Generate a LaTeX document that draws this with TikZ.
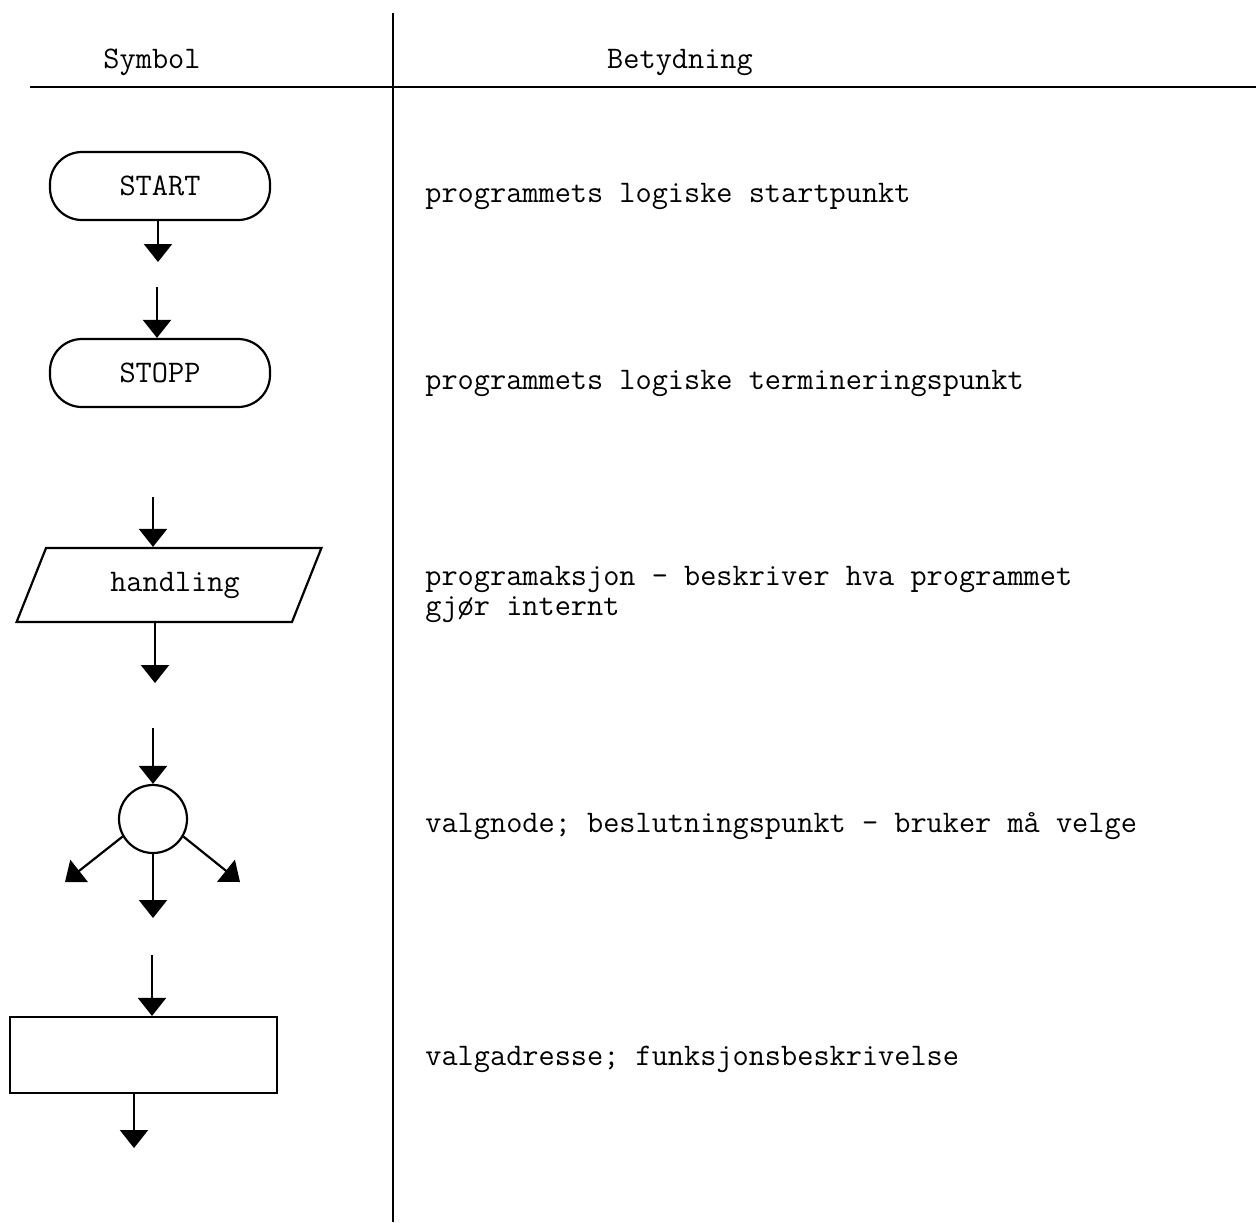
\documentclass[tikz,border=0pt]{standalone}
\usepackage{fontspec}
\usepackage{tikz}
\usetikzlibrary{shapes.geometric, arrows.meta}
\tikzstyle{startstop} = [rectangle, rounded corners=16pt,
minimum width=110pt,
minimum height=34pt,
text centered,
draw=black,
line width=1.1pt]
\tikzstyle{io} = [trapezium,
trapezium stretches=true,
trapezium left angle=65,
trapezium right angle=115,
minimum width=153pt,
minimum height=37pt, text centered,
draw=black, line width=1.1pt]
\tikzstyle{choice} = [circle,
minimum size=34pt,
inner sep=0pt,
draw=black,
line width=1.1pt]
\tikzstyle{process} = [rectangle,
minimum width=133.5pt,
minimum height=38pt,
draw=black,
line width=1.1pt]
\tikzstyle{desc} = [anchor=west, align=left, inner sep=0pt]
\tikzstyle{arrow} = [line width=1.1pt,-{Triangle[width=14pt,length=9pt]}]

\begin{document}
\begin{tikzpicture}[x=0.5pt, y=-0.5pt, font={\fontsize{15.7}{15}\selectfont\ttfamily}]

    \useasboundingbox (0,0) rectangle (1256,1222);

    % table
    \draw [line width=1pt] (393,13) -- (393,1222);
    \draw [line width=1pt] (30,87) -- (1256,87);
    \node (symhead) at (152,62) {Symbol};
    \node (sighead) at (680,62) {Betydning};

    % symbols
    \node (start) [startstop] at (160,186) {START};
    \coordinate (start_out) at (158,262);
    \coordinate (stop_in) at (157,287);
    \node (stop) [startstop] at (160,373) {STOPP};

    \coordinate (act_in) at (153,497);
    \node (act) [io] at (169,585) {\hspace*{6pt}handling};
    \coordinate (act_out) at (155,683);

    \coordinate (choice_in) at (153,728);
    \node (valg) [choice] at (153,819) {};
    \coordinate (choice_l) at (65,882);
    \coordinate (choice_m) at (153,918);
    \coordinate (choice_r) at (240,882);

    \coordinate (addr_in) at (152,955);
    \node (addr) [process] at (143.5,1055) {};
    \coordinate (addr_out) at (134,1148);

    \draw [arrow] (start.south -| start_out) -- (start_out);
    \draw [arrow] (stop_in) -- (stop_in |- stop.north);
    \draw [arrow] (act_in) -- (act_in |- act.north);
    \draw [arrow] (act.south -| act_out) -- (act_out);
    \draw [arrow] (choice_in) -- (valg.north);
    \draw [arrow] (valg.-150) -- (choice_l);
    \draw [arrow] (valg.south) -- (choice_m);
    \draw [arrow] (valg.-30) -- (choice_r);
    \draw [arrow] (addr_in) -- (addr_in |- addr.north);
    \draw [arrow] (addr.south -| addr_out) -- (addr_out);

    % meanings
    \node (d_start) [desc] at (425,196) {programmets logiske startpunkt};
    \node (d_stop) [desc] at (425,383) {programmets logiske termineringspunkt};
    \node (d_act) [desc] at (425,594) {programaksjon - beskriver hva programmet\\gjør internt};
    \node (d_valg) [desc] at (425,826) {valgnode; beslutningspunkt - bruker må velge};
    \node (d_addr) [desc] at (425,1059) {valgadresse; funksjonsbeskrivelse};

\end{tikzpicture}
\end{document}
